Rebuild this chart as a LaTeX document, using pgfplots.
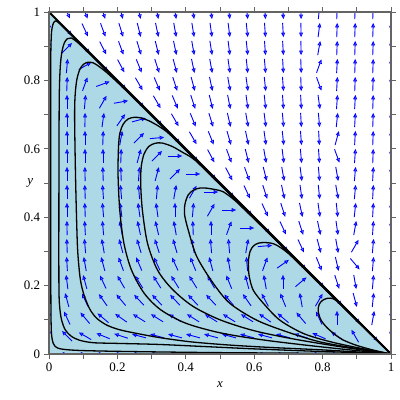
\documentclass[border=0pt]{standalone}
\usepackage{fontspec}
\setmainfont{Liberation Serif}
\usepackage{pgfplots}
\usepackage{pgfplotstable}
\pgfplotsset{compat=1.18}
\usetikzlibrary{arrows.meta}
\definecolor{shade}{RGB}{173,216,230}
\definecolor{fieldblue}{RGB}{0,0,255}
\definecolor{framec}{RGB}{100,100,100}
\pgfplotsset{traj/.style={black, line width=1.3bp, smooth, tension=0.5, mark=none}}
% direction field: grid index i, j (x=i/19, y=j/19), arrow angle a in degrees
\pgfplotstableread[row sep=\\]{
i j a\\
1 0 180\\ 2 0 180\\ 3 0 180\\ 4 0 180\\ 5 0 180\\ 6 0 180\\ 7 0 180\\ 8 0 180\\ 9 0 180\\ 10 0 180\\ 11 0 180\\ 12 0 180\\ 13 0 180\\ 14 0 180\\ 15 0 180\\ 16 0 180\\ 17 0 180\\ 18 0 180\\
0 1 90\\ 1 1 135\\ 2 1 150\\ 3 1 158\\ 4 1 162\\ 5 1 165\\ 6 1 165\\ 7 1 165\\ 8 1 165\\ 9 1 165\\ 10 1 165\\ 11 1 165\\ 12 1 165\\ 13 1 165\\ 14 1 162\\ 15 1 157\\ 16 1 145\\ 17 1 120\\ 18 1 -45\\ 19 1 88\\
0 2 90\\ 1 2 115\\ 2 2 130\\ 3 2 140\\ 4 2 145\\ 5 2 148\\ 6 2 148\\ 7 2 148\\ 8 2 148\\ 9 2 148\\ 10 2 148\\ 11 2 148\\ 12 2 145\\ 13 2 140\\ 14 2 130\\ 15 2 115\\ 16 2 90\\ 17 2 -45\\ 18 2 80\\ 19 2 87\\
0 3 90\\ 1 3 105\\ 2 3 115\\ 3 3 125\\ 4 3 130\\ 5 3 133\\ 6 3 133\\ 7 3 133\\ 8 3 133\\ 9 3 133\\ 10 3 130\\ 11 3 125\\ 12 3 118\\ 13 3 112\\ 14 3 100\\ 15 3 60\\ 16 3 -45\\ 17 3 -75\\ 18 3 84\\ 19 3 87\\
0 4 90\\ 1 4 97\\ 2 4 105\\ 3 4 115\\ 4 4 120\\ 5 4 122\\ 6 4 122\\ 7 4 122\\ 8 4 122\\ 9 4 120\\ 10 4 112\\ 11 4 105\\ 12 4 100\\ 13 4 90\\ 14 4 40\\ 15 4 -45\\ 16 4 -72\\ 17 4 -80\\ 18 4 85\\ 19 4 87\\
0 5 90\\ 1 5 93\\ 2 5 100\\ 3 5 105\\ 4 5 110\\ 5 5 113\\ 6 5 115\\ 7 5 115\\ 8 5 112\\ 9 5 105\\ 10 5 100\\ 11 5 95\\ 12 5 70\\ 13 5 35\\ 14 5 -45\\ 15 5 -68\\ 16 5 -77\\ 17 5 -50\\ 18 5 85\\ 19 5 87\\
0 6 90\\ 1 6 92\\ 2 6 95\\ 3 6 100\\ 4 6 105\\ 5 6 107\\ 6 6 108\\ 7 6 106\\ 8 6 100\\ 9 6 95\\ 10 6 95\\ 11 6 80\\ 12 6 5\\ 13 6 -45\\ 14 6 -65\\ 15 6 -75\\ 16 6 -80\\ 17 6 60\\ 18 6 85\\ 19 6 87\\
0 7 90\\ 1 7 91\\ 2 7 93\\ 3 7 95\\ 4 7 100\\ 5 7 102\\ 6 7 103\\ 7 7 100\\ 8 7 92\\ 9 7 90\\ 10 7 70\\ 11 7 0\\ 12 7 -45\\ 13 7 -65\\ 14 7 -72\\ 15 7 -78\\ 16 7 -82\\ 17 7 80\\ 18 7 86\\ 19 7 88\\
0 8 90\\ 1 8 90\\ 2 8 92\\ 3 8 95\\ 4 8 97\\ 5 8 98\\ 6 8 98\\ 7 8 90\\ 8 8 85\\ 9 8 60\\ 10 8 0\\ 11 8 -45\\ 12 8 -65\\ 13 8 -72\\ 14 8 -78\\ 15 8 -82\\ 16 8 -84\\ 17 8 84\\ 18 8 87\\ 19 8 88\\
0 9 90\\ 1 9 90\\ 2 9 92\\ 3 9 94\\ 4 9 95\\ 5 9 95\\ 6 9 85\\ 7 9 80\\ 8 9 60\\ 9 9 0\\ 10 9 -45\\ 11 9 -65\\ 12 9 -72\\ 13 9 -78\\ 14 9 -82\\ 15 9 -84\\ 16 9 -80\\ 17 9 85\\ 18 9 87\\ 19 9 88\\
0 10 90\\ 1 10 90\\ 2 10 91\\ 3 10 92\\ 4 10 92\\ 5 10 85\\ 6 10 75\\ 7 10 45\\ 8 10 0\\ 9 10 -45\\ 10 10 -62\\ 11 10 -70\\ 12 10 -76\\ 13 10 -80\\ 14 10 -83\\ 15 10 -85\\ 16 10 -80\\ 17 10 85\\ 18 10 87\\ 19 10 88\\
0 11 90\\ 1 11 90\\ 2 11 90\\ 3 11 90\\ 4 11 88\\ 5 11 75\\ 6 11 45\\ 7 11 0\\ 8 11 -45\\ 9 11 -62\\ 10 11 -70\\ 11 11 -76\\ 12 11 -80\\ 13 11 -83\\ 14 11 -85\\ 15 11 -86\\ 16 11 -70\\ 17 11 86\\ 18 11 88\\ 19 11 88\\
0 12 90\\ 1 12 90\\ 2 12 90\\ 3 12 88\\ 4 12 80\\ 5 12 45\\ 6 12 5\\ 7 12 -45\\ 8 12 -60\\ 9 12 -68\\ 10 12 -74\\ 11 12 -78\\ 12 12 -82\\ 13 12 -84\\ 14 12 -86\\ 15 12 -87\\ 16 12 75\\ 17 12 87\\ 18 12 88\\ 19 12 88\\
0 13 90\\ 1 13 90\\ 2 13 89\\ 3 13 82\\ 4 13 55\\ 5 13 15\\ 6 13 -45\\ 7 13 -60\\ 8 13 -68\\ 9 13 -73\\ 10 13 -77\\ 11 13 -80\\ 12 13 -83\\ 13 13 -85\\ 14 13 -87\\ 15 13 -85\\ 16 13 84\\ 17 13 87\\ 18 13 88\\ 19 13 88\\
0 14 90\\ 1 14 90\\ 2 14 85\\ 3 14 60\\ 4 14 10\\ 5 14 -45\\ 6 14 -60\\ 7 14 -67\\ 8 14 -72\\ 9 14 -76\\ 10 14 -79\\ 11 14 -82\\ 12 14 -84\\ 13 14 -86\\ 14 14 -87\\ 15 14 -82\\ 16 14 86\\ 17 14 87\\ 18 14 88\\ 19 14 88\\
0 15 90\\ 1 15 88\\ 2 15 70\\ 3 15 20\\ 4 15 -45\\ 5 15 -60\\ 6 15 -67\\ 7 15 -72\\ 8 15 -75\\ 9 15 -78\\ 10 15 -80\\ 11 15 -82\\ 12 15 -84\\ 13 15 -86\\ 14 15 -88\\ 15 15 -70\\ 16 15 87\\ 17 15 88\\ 18 15 88\\ 19 15 88\\
0 16 90\\ 1 16 85\\ 2 16 30\\ 3 16 -45\\ 4 16 -62\\ 5 16 -68\\ 6 16 -72\\ 7 16 -75\\ 8 16 -78\\ 9 16 -80\\ 10 16 -82\\ 11 16 -84\\ 12 16 -85\\ 13 16 -87\\ 14 16 -88\\ 15 16 70\\ 16 16 87\\ 17 16 88\\ 18 16 88\\ 19 16 88\\
0 17 90\\ 1 17 45\\ 2 17 -45\\ 3 17 -63\\ 4 17 -70\\ 5 17 -73\\ 6 17 -76\\ 7 17 -78\\ 8 17 -80\\ 9 17 -81\\ 10 17 -83\\ 11 17 -84\\ 12 17 -86\\ 13 17 -87\\ 14 17 -89\\ 15 17 80\\ 16 17 88\\ 17 17 88\\ 18 17 88\\ 19 17 88\\
0 18 90\\ 1 18 -45\\ 2 18 -65\\ 3 18 -70\\ 4 18 -73\\ 5 18 -76\\ 6 18 -78\\ 7 18 -80\\ 8 18 -81\\ 9 18 -82\\ 10 18 -83\\ 11 18 -84\\ 12 18 -86\\ 13 18 -87\\ 14 18 -89\\ 15 18 83\\ 16 18 88\\ 17 18 88\\ 18 18 88\\ 19 18 88\\
1 19 -65\\ 2 19 -68\\ 3 19 -72\\ 4 19 -75\\ 5 19 -77\\ 6 19 -79\\ 7 19 -80\\ 8 19 -81\\ 9 19 -82\\ 10 19 -83\\ 11 19 -84\\ 12 19 -86\\ 13 19 -87\\ 14 19 -89\\ 15 19 85\\ 16 19 88\\ 17 19 88\\ 18 19 88\\ 19 19 88\\
}\fielddata
\begin{document}
\begin{tikzpicture}
\useasboundingbox (-49bp,-46bp) rectangle (351bp,354bp);
\begin{axis}[
  scale only axis, width=342bp, height=342bp,
  xmin=0, xmax=1, ymin=0, ymax=1,
  axis on top,
  /pgf/number format/assume math mode=true,
  xtick={0,0.2,0.4,0.6,0.8,1}, ytick={0,0.2,0.4,0.6,0.8,1},
  xticklabels={\mbox{0},\mbox{0.2},\mbox{0.4},\mbox{0.6},\mbox{0.8},\mbox{1}},
  yticklabels={\mbox{0},\mbox{0.2},\mbox{0.4},\mbox{0.6},\mbox{0.8},\mbox{1}},
  minor xtick={0.1,0.3,0.5,0.7,0.9}, minor ytick={0.1,0.3,0.5,0.7,0.9},
  tick align=outside, major tick length=4.5bp, minor tick length=4.5bp,
  tick style={draw=framec, line width=0.8bp},
  axis line style={draw=framec, line width=1.6bp},
  ticklabel style={font=\rmfamily\fontsize{13}{14}\selectfont},
  xticklabel style={yshift=-1bp},
  yticklabel style={xshift=-1bp},
  xlabel={\textit{x}}, ylabel={\textit{y}},
  label style={font=\rmfamily\fontsize{13}{14}\selectfont},
  xlabel style={at={(axis description cs:0.5,-0.09)}, anchor=center},
  ylabel style={rotate=-90, at={(axis description cs:-0.055,0.5)}, anchor=center},
]
\addplot[fill=shade, draw=none] coordinates {(0,0) (1,0) (0,1) (0,0)};

\addplot[fieldblue, line width=0.9bp,
  quiver={u={0.042*cos(\thisrow{a})}, v={0.042*sin(\thisrow{a})},
          every arrow/.append style={-{Triangle[open,length=4.5bp,width=3.8bp]}}}]
  table[x expr={\thisrow{i}/19-0.021*cos(\thisrow{a})},
        y expr={\thisrow{j}/19-0.021*sin(\thisrow{a})}] {\fielddata};

% trajectories
\addplot[traj] coordinates {(1,0) (0.8,0.002) (0.5,0.004) (0.25,0.007) (0.1,0.01) (0.04,0.014) (0.018,0.022) (0.009,0.045) (0.006,0.1) (0.005,0.3) (0.005,0.6) (0.005,0.85) (0.007,0.935) (0.011,0.962) (0.016,0.972) (0.024,0.972) (0.05,0.947) (0.2,0.798) (0.5,0.499) (0.8,0.1995) (1,0)};
\addplot[traj] coordinates {(1,0) (0.9,0.004) (0.75,0.009) (0.6,0.015) (0.45,0.022) (0.32,0.028) (0.2,0.031) (0.13,0.033) (0.09,0.04) (0.065,0.052) (0.048,0.07) (0.038,0.095) (0.032,0.13) (0.029,0.2) (0.029,0.5) (0.03,0.75) (0.033,0.84) (0.038,0.885) (0.045,0.91) (0.054,0.922) (0.065,0.924) (0.08,0.914) (0.11,0.886) (0.2,0.797) (0.5,0.498) (0.8,0.1988) (1,0)};
\addplot[traj] coordinates {(1,0) (0.9,0.006) (0.8,0.012) (0.65,0.019) (0.53,0.026) (0.42,0.035) (0.336,0.046) (0.278,0.056) (0.21,0.07) (0.17,0.084) (0.14,0.104) (0.12,0.13) (0.105,0.165) (0.095,0.2) (0.089,0.24) (0.083,0.32) (0.078,0.5) (0.075,0.68) (0.076,0.75) (0.081,0.8) (0.09,0.832) (0.101,0.847) (0.114,0.853) (0.13,0.851) (0.15,0.838) (0.18,0.813) (0.25,0.746) (0.5,0.497) (0.8,0.198) (1,0)};
\addplot[traj] coordinates {(1,0) (0.88,0.012) (0.75,0.026) (0.62,0.042) (0.5,0.062) (0.4,0.09) (0.327,0.129) (0.278,0.178) (0.241,0.246) (0.219,0.324) (0.207,0.42) (0.202,0.52) (0.203,0.6) (0.207,0.645) (0.217,0.672) (0.231,0.687) (0.249,0.692) (0.27,0.69) (0.3,0.678) (0.344,0.65) (0.4,0.596) (0.7,0.297) (1,0)};
\addplot[traj] coordinates {(1,0) (0.86,0.02) (0.72,0.043) (0.6,0.068) (0.5,0.1) (0.42,0.14) (0.36,0.19) (0.317,0.246) (0.288,0.324) (0.273,0.421) (0.268,0.5) (0.27,0.55) (0.278,0.585) (0.292,0.607) (0.31,0.616) (0.33,0.617) (0.36,0.607) (0.39,0.59) (0.42,0.572) (0.46,0.535) (0.7,0.297) (1,0)};
\addplot[traj] coordinates {(1,0) (0.9,0.016) (0.79,0.036) (0.695,0.065) (0.607,0.099) (0.529,0.148) (0.48,0.207) (0.432,0.285) (0.407,0.363) (0.396,0.41) (0.398,0.44) (0.407,0.465) (0.422,0.479) (0.44,0.485) (0.46,0.485) (0.49,0.48) (0.51,0.474) (0.54,0.452) (0.57,0.424) (0.7,0.297) (1,0)};
\addplot[traj] coordinates {(1,0) (0.919,0.015) (0.822,0.036) (0.744,0.06) (0.675,0.099) (0.627,0.148) (0.597,0.187) (0.585,0.23) (0.583,0.27) (0.588,0.3) (0.598,0.316) (0.612,0.324) (0.63,0.326) (0.65,0.324) (0.666,0.318) (0.69,0.302) (0.72,0.275) (0.85,0.147) (1,0)};
\addplot[traj] coordinates {(1,0) (0.95,0.011) (0.9,0.025) (0.86,0.041) (0.835,0.058) (0.812,0.078) (0.795,0.1) (0.787,0.125) (0.79,0.145) (0.8,0.157) (0.815,0.163) (0.83,0.162) (0.845,0.152) (0.87,0.127) (0.93,0.068) (1,0)};
\addplot[black, line width=1.9bp] coordinates {(0,1) (1,0)};
\end{axis}
\end{tikzpicture}
\end{document}
